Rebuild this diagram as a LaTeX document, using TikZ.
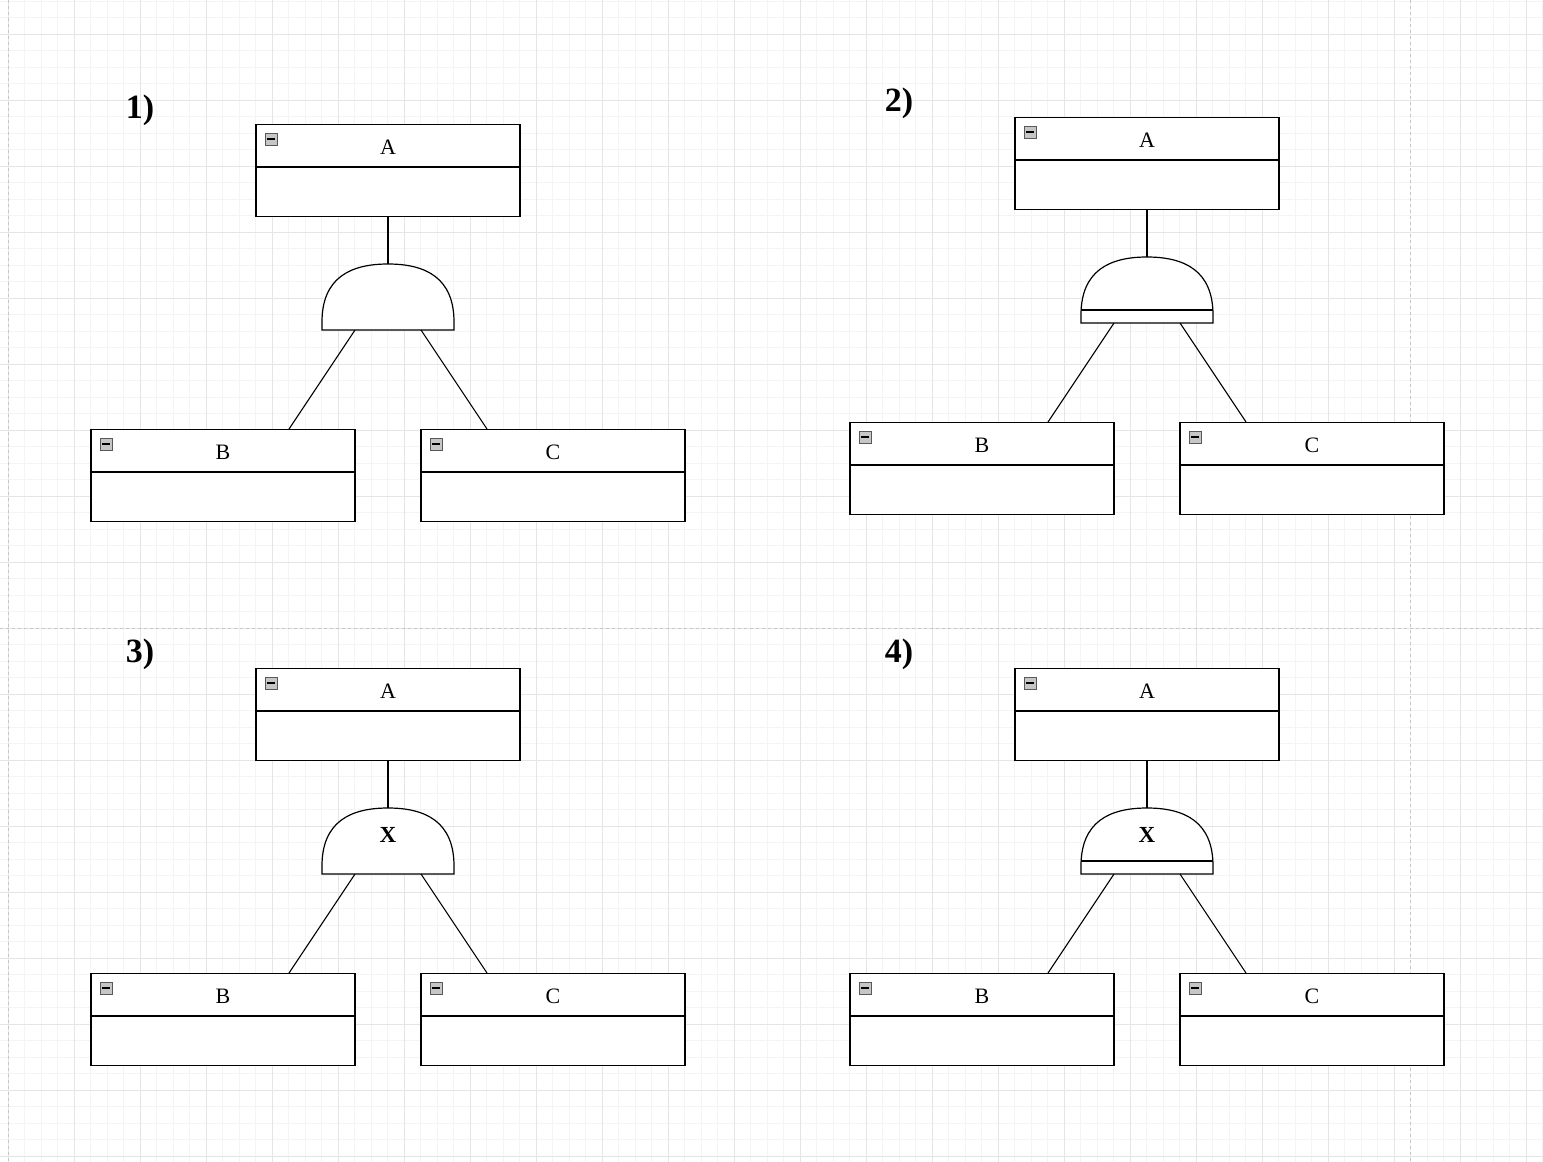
\documentclass[tikz,border=0pt]{standalone}
\usepackage{fontspec}
\setmainfont{Liberation Serif}
\usetikzlibrary{calc}
\tikzset{
  box/.style={draw,line width=1.2pt,fill=white,minimum width=264pt,minimum height=92pt,inner sep=0pt},
  wire/.style={line width=1.1pt},
  icon/.style={draw=gray!70!black,fill=gray!45,minimum size=12pt,inner sep=0pt,line width=0.6pt},
  lab/.style={font=\fontsize{22}{22}\selectfont},
  num/.style={font=\bfseries\fontsize{34}{34}\selectfont},
}
\newcommand{\classbox}[4]{% name, cx, top, label
  \node[box,anchor=north] (#1) at (#2,#3) {};
  \draw[line width=1.2pt] ($(#1.north west)+(0,43)$) -- ($(#1.north east)+(0,43)$);
  \node[lab] (#1t) at (#2,#3+23) {#4};
  \node[icon] (#1i) at (#2-117,#3+15) {};
  \draw[line width=1.4pt] ($(#1i.center)+(-4,0)$) -- ($(#1i.center)+(4,0)$);
}
\newcommand{\panel}[6]{% prefix, dx, dy, inhibit(0/1), gate text, number
\begin{scope}[shift={(#2,#3)}]
  \classbox{#1a}{388}{124}{A}
  \classbox{#1b}{223}{429}{B}
  \classbox{#1c}{553}{429}{C}
  \coordinate (#1gt) at (388,264);
  \coordinate (#1gl) at (355,330);
  \coordinate (#1gr) at (421,330);
  \draw[line width=1.2pt,fill=white] (322,330) -- (322,322) .. controls (322,278) and (350,264) .. (#1gt) .. controls (426,264) and (454,278) .. (454,322) -- (454,330) -- cycle;
  \ifnum#4=1 \draw[line width=1.2pt] (322,317) -- (454,317); \fi
  \node[font=\bfseries\fontsize{23}{23}\selectfont] (#1x) at (388,291) {#5};
  \draw[wire] (#1a.south) -- (#1gt);
  \draw[wire] (#1gl) -- ($(#1b.north)+(66,0)$);
  \draw[wire] (#1gr) -- ($(#1c.north)+(-66,0)$);
  \node[num] (#1n) at (140,110) {#6};
\end{scope}}
\begin{document}
\begin{tikzpicture}[x=1pt,y=-1pt]
\useasboundingbox (0,0) rectangle (1543,1162);
\fill[white] (0,0) rectangle (1543,1162);
\foreach \i in {0,...,94} {\draw[gray!9,line width=0.5pt] (8+\i*16.5,0) -- (8+\i*16.5,1162);}
\foreach \i in {0,...,71} {\draw[gray!9,line width=0.5pt] (0,-32+\i*16.5) -- (1543,-32+\i*16.5);}
\foreach \i in {0,...,23} {\draw[gray!20,line width=0.6pt] (8+\i*66,0) -- (8+\i*66,1162);}
\foreach \i in {0,...,18} {\draw[gray!20,line width=0.6pt] (0,-32+\i*66) -- (1543,-32+\i*66);}
\draw[gray!45,dashed,line width=0.7pt] (8,0) -- (8,1162) (1410,0) -- (1410,1162) (0,628) -- (1543,628);
\panel{p}{0}{0}{0}{}{1)}
\panel{q}{759}{-7}{1}{}{2)}
\panel{r}{0}{544}{0}{X}{3)}
\panel{s}{759}{544}{1}{X}{4)}
\end{tikzpicture}
\end{document}
